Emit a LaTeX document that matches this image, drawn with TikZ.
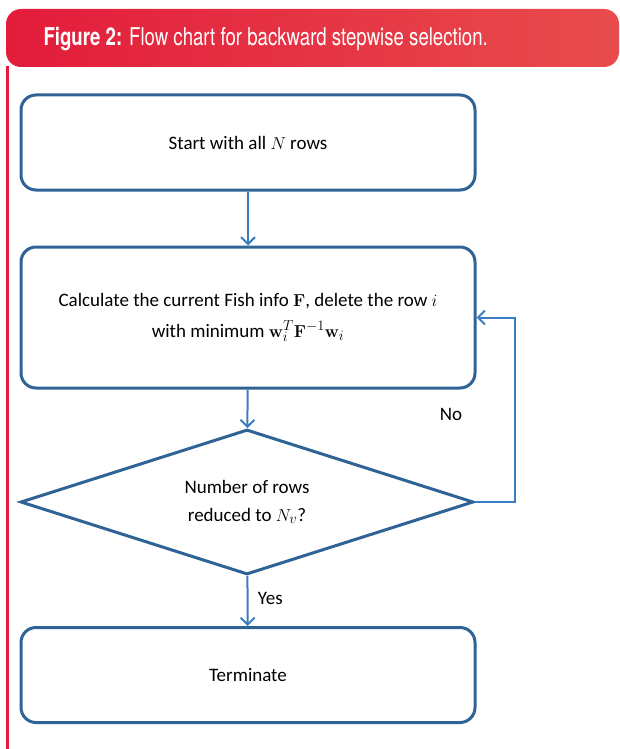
\documentclass[tikz,border=0pt]{standalone}
\usepackage[no-math]{fontspec}
\setmainfont{Carlito}
\newfontfamily\headfont[FakeStretch=0.76]{TeX Gyre Heros}
\usetikzlibrary{arrows.meta,shapes.geometric}
\definecolor{headleft}{HTML}{E31C3B}
\definecolor{headright}{HTML}{E84C4D}
\definecolor{boxline}{HTML}{2F6396}
\definecolor{flowline}{HTML}{3A7DC1}
\begin{document}
\begin{tikzpicture}[x=1pt,y=-1pt]
    \tikzset{stepbox/.style = {draw=boxline, line width=3pt, rounded corners=15pt,
        minimum width=454pt, align=center, font=\fontsize{19}{29}\selectfont}}
    \tikzset{decision/.style = {draw=boxline, line width=3pt, shape=diamond, aspect=3,
        inner sep=0pt, minimum width=453pt, minimum height=145pt, align=center,
        font=\fontsize{19}{28}\selectfont}}
    \tikzset{flow/.style = {draw=flowline, line width=2pt,
        -{Straight Barb[length=7pt,width=14pt]}}}
    \useasboundingbox (0,0) rectangle (619,749);
    % header band
    \shade[left color=headleft, right color=headright, rounded corners=15pt]
        (6,67) -- (6,9) -- (619,9) -- (619,67) -- cycle;
    \draw[headleft, line width=3pt] (7,66) -- (7,749);
    \node[anchor=west, text=white, font=\headfont\fontsize{24.5}{28}\selectfont]
        (title) at (40,39) {\textbf{Figure 2:} Flow chart for backward stepwise selection.};
    % flow chart
    \node[stepbox, minimum height=95pt] (start) at (248,142.5) {Start with all $N$ rows};
    \node[stepbox, minimum height=141pt] (calc) at (248,317.5)
        {\raisebox{2pt}{Calculate the current Fish info $\mathbf{F}$, delete the row $i$}\\
         with minimum $\mathbf{w}_i^T\mathbf{F}^{-1}\mathbf{w}_i$};
    \node[decision] (check) at (247,502) {Number of rows\\ reduced to $N_v$?};
    \node[stepbox, minimum height=95pt] (stop) at (248,675) {Terminate};
    \draw[flow] (start) -- (calc);
    \draw[flow] (calc) -- (check);
    \draw[flow] (check) -- node[right=6pt, pos=0.45, font=\fontsize{19}{22}\selectfont] (yes) {Yes} (stop);
    \draw[flow] (check.east) -- ++(40,0) |- (calc.east);
    \node[font=\fontsize{19}{22}\selectfont] (no) at (451,414) {No};
\end{tikzpicture}
\end{document}
